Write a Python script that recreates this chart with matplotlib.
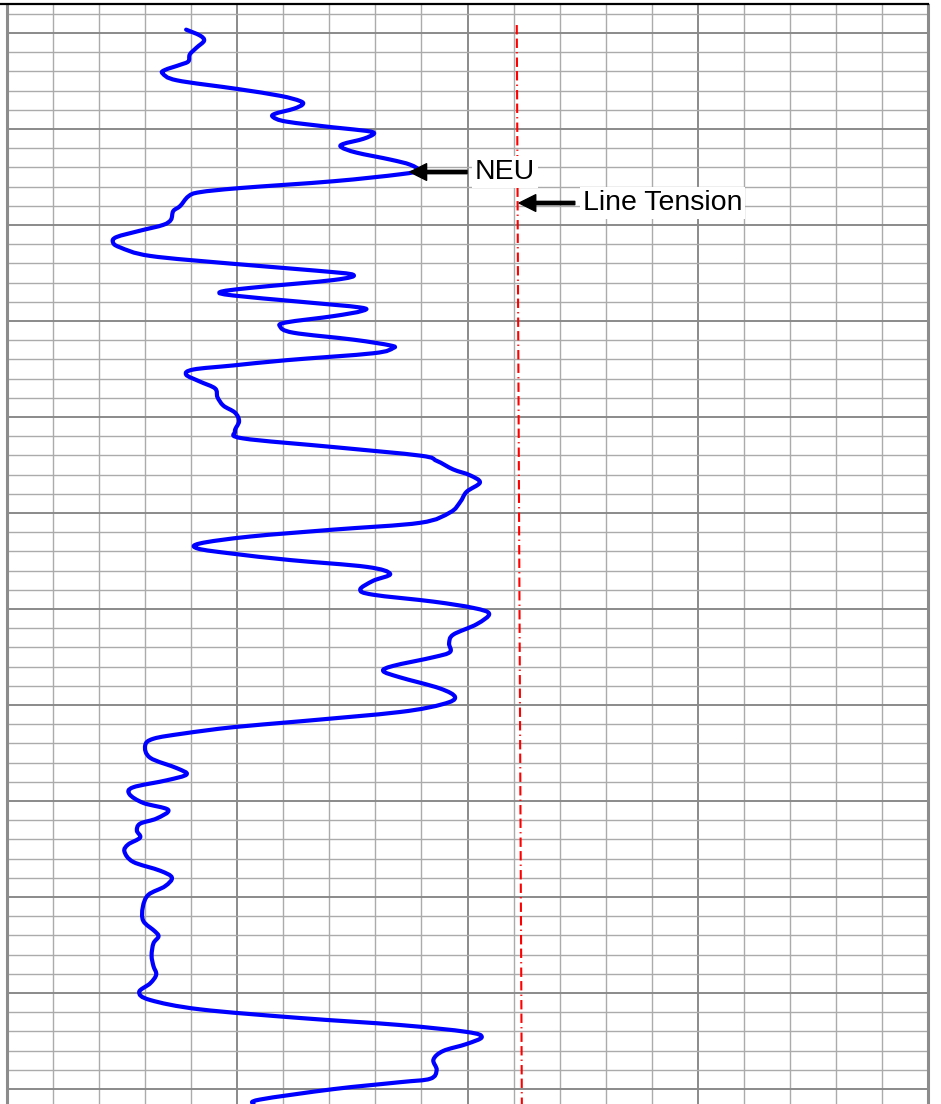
import matplotlib
matplotlib.use("Agg")
import matplotlib.pyplot as plt
from matplotlib.lines import Line2D
from matplotlib.path import Path
from matplotlib.patches import PathPatch
from matplotlib.ticker import MultipleLocator

plt.rcParams['font.family'] = ['Liberation Sans', 'DejaVu Sans']

# neutron curve (x in chart divisions, depth in ft below top mark)
neu_x = [3.89, 4.19, 4.28, 4.12, 3.97, 3.94, 3.76, 3.43, 3.38, 3.69,
         4.99, 5.93, 6.36, 6.42, 6.22, 5.82, 5.78, 6.07, 7.09, 7.81,
         7.97, 7.74, 7.30, 7.27, 7.59, 8.32, 8.75, 8.93, 8.53, 7.09,
         5.06, 4.19, 3.94, 3.76, 3.61, 3.56, 3.39, 2.89, 2.38, 2.30,
         2.45, 3.11, 4.91, 6.73, 7.52, 7.09, 5.28, 4.63, 4.91, 6.36,
         7.67, 7.70, 7.09, 6.07, 5.93, 6.22, 7.52, 8.32, 8.38, 7.95,
         6.07, 4.91, 4.05, 3.89, 4.19, 4.52, 4.57, 4.70, 4.95, 5.04,
         4.95, 5.13, 7.09, 8.97, 9.33, 9.69, 10.05, 10.27, 9.98, 9.84,
         9.62, 8.97, 7.09, 5.28, 4.19, 4.15, 4.91,
         6.15, 7.81, 8.32, 7.95, 7.67, 7.95, 9.26, 10.13, 10.47, 10.20,
         9.69, 9.60, 9.62, 9.26, 8.39, 8.17, 8.53, 9.40, 9.73, 9.47,
         8.53, 6.36, 4.91, 3.83, 3.18, 3.00, 3.11, 3.69, 3.90, 3.47,
         2.74, 2.66, 2.96, 3.50, 3.25, 2.89, 2.82, 2.89, 2.63, 2.55,
         2.74, 3.32, 3.58, 3.43, 3.07, 2.95, 2.96, 3.21, 3.29, 3.18,
         3.14, 3.18, 3.24, 3.11, 2.87, 3.11, 4.19, 6.36, 8.53, 9.98,
         10.31, 9.98, 9.47, 9.26, 9.33, 9.19, 8.53, 7.09, 5.49, 5.35]
neu_depth = [-0.35, 0.26, 0.80, 1.51, 2.23, 2.95, 3.31, 3.85, 4.21, 4.93,
             5.82, 6.54, 7.08, 7.44, 7.90, 8.41, 8.76, 9.23, 9.83, 10.20,
             10.48, 11.02, 11.56, 11.92, 12.46, 13.18, 13.71, 14.32, 14.72, 15.44,
             16.15, 16.58, 17.01, 18.02, 18.55, 19.45, 19.99, 20.59, 21.25, 21.78,
             22.32, 23.22, 24.04, 24.76, 25.19, 25.73, 26.55, 26.98, 27.34, 27.99,
             28.59, 28.96, 29.49, 30.14, 30.57, 31.22, 31.94, 32.54, 32.83, 33.36,
             34.08, 34.63, 35.05, 35.59, 36.31, 37.03, 37.93, 38.82, 39.54, 40.44,
             41.51, 42.23, 43.13, 44.02, 44.56, 45.46, 46.06, 46.82, 47.79, 48.86,
             49.94, 51.02, 51.73, 52.45, 53.17, 53.71, 54.24,
             54.90, 55.61, 56.34, 57.06, 57.97, 58.51, 59.23, 59.89, 60.50, 61.58,
             62.67, 63.57, 64.48, 65.02, 65.92, 66.46, 67.11, 68.27, 69.18, 69.90,
             70.73, 71.70, 72.31, 72.97, 73.51, 74.23, 75.50, 76.58, 77.23, 77.84,
             78.57, 79.29, 80.20, 80.92, 81.82, 82.36, 83.08, 83.81, 84.53, 85.26,
             86.34, 87.25, 87.97, 88.88, 89.77, 91.04, 92.49, 93.57, 94.11, 94.83,
             96.10, 97.19, 98.08, 98.99, 99.90, 100.73, 101.70, 102.60, 103.33, 104.05,
             104.59, 105.31, 106.04, 106.94, 108.02, 108.93, 109.29, 110.01, 111.10, 111.56]

# line tension trace (nearly straight)
ten_x = [11.07, 11.18]
ten_depth = [-0.83, 111.6]

# label positions: (tip x, tip depth, tail x, text x)
neu_lbl = (8.75, 14.48, 9.99, 10.16)
ten_lbl = (11.12, 17.71, 12.33, 12.51)


def smooth_path(xs, ys):
    # pass a curved path through the points (catmull-rom -> cubic bezier)
    pts = list(zip(xs, ys))
    verts = [pts[0]]
    codes = [Path.MOVETO]
    n = len(pts)
    for i in range(n - 1):
        p0 = pts[i - 1] if i > 0 else pts[i]
        p1 = pts[i]
        p2 = pts[i + 1]
        p3 = pts[i + 2] if i + 2 < n else pts[i + 1]
        c1 = (p1[0] + (p2[0] - p0[0]) / 6, p1[1] + (p2[1] - p0[1]) / 6)
        c2 = (p2[0] - (p3[0] - p1[0]) / 6, p2[1] - (p3[1] - p1[1]) / 6)
        verts += [c1, c2, p2]
        codes += [Path.CURVE4] * 3
    return Path(verts, codes)


fig = plt.figure(figsize=(9.41, 11.04), dpi=100)
ax = fig.add_axes([7 / 941, 0, 921 / 941, 1 - 4.5 / 1104])

ax.set_xlim(0, 20)
ax.set_ylim(111.56, -2.97)
ax.xaxis.set_major_locator(MultipleLocator(5))
ax.xaxis.set_minor_locator(MultipleLocator(1))
ax.yaxis.set_major_locator(MultipleLocator(10))
ax.yaxis.set_minor_locator(MultipleLocator(2))
ax.tick_params(which='both', length=0, labelbottom=False, labelleft=False)
ax.set_axisbelow(True)
ax.grid(which='minor', color='#ababab', lw=1.0)
ax.grid(which='major', color='#8a8a8a', lw=1.4)

for s in ['left', 'right']:
    ax.spines[s].set_color('#8c8c8c')
    ax.spines[s].set_linewidth(2.2)
ax.spines['top'].set_visible(False)
ax.spines['bottom'].set_visible(False)

fig.add_artist(Line2D([0, 928 / 941], [1 - 4 / 1104] * 2, color='black', lw=1.6))

ax.add_patch(PathPatch(smooth_path(neu_x, neu_depth), facecolor='none',
                       edgecolor='#0000ff', lw=3.0, capstyle='round',
                       joinstyle='round', zorder=3))
ax.plot(ten_x, ten_depth, color='#ff0000', lw=1.5,
        linestyle=(0, (4.5, 2.0, 4.5, 2.0, 0.6, 2.0)), zorder=3)

for (tx, td, sx, lx), label in [(neu_lbl, 'NEU'), (ten_lbl, 'Line Tension')]:
    ax.annotate('', xy=(tx, td), xytext=(sx, td),
                arrowprops=dict(facecolor='black', edgecolor='black', width=2.4,
                                headwidth=12, headlength=12, shrink=0), zorder=4)
    ax.text(lx, td, label, fontsize=20.5, va='center', ha='left', zorder=4,
            bbox=dict(facecolor='white', edgecolor='none', boxstyle='square,pad=0.1'))

fig.savefig('out.png', dpi=100)
